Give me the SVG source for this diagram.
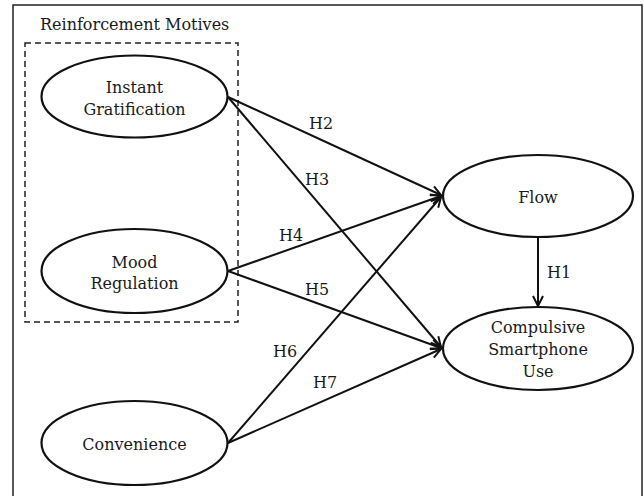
<svg xmlns="http://www.w3.org/2000/svg" width="644" height="496" viewBox="0 0 644 496">
<defs>
<style>
.t{font-family:"DejaVu Serif","Liberation Serif",serif;font-size:16px;fill:#1a1a1a}
.n{fill:#fff;stroke:#111;stroke-width:2.2}
.c{stroke:#111;stroke-width:2;fill:none;marker-end:url(#ah)}
</style>
<marker id="ah" viewBox="0 0 12 12" refX="11" refY="6" markerWidth="12" markerHeight="12" markerUnits="userSpaceOnUse" orient="auto">
<path d="M1,1 L11,6 L1,11" fill="none" stroke="#111" stroke-width="2"/>
</marker>
</defs>
<rect x="0" y="0" width="644" height="496" fill="#fff"/>
<rect x="13" y="5" width="629" height="500" fill="none" stroke="#222" stroke-width="1.5"/>
<g id="group-reinforcement">
<rect x="25" y="43" width="213" height="279" fill="none" stroke="#222" stroke-width="1.5" stroke-dasharray="6,4"/>
<text class="t" x="40" y="30">Reinforcement Motives</text>
</g>
<g id="connectors">
<line class="c" x1="228" y1="97" x2="441" y2="195"/>
<line class="c" x1="228" y1="97" x2="441" y2="347"/>
<line class="c" x1="228" y1="271" x2="441" y2="196"/>
<line class="c" x1="228" y1="271" x2="441" y2="348"/>
<line class="c" x1="228" y1="443" x2="441" y2="197"/>
<line class="c" x1="228" y1="443" x2="441" y2="349"/>
<line class="c" x1="538" y1="237" x2="538" y2="306"/>
<text class="t" x="309" y="129">H2</text>
<text class="t" x="305" y="185">H3</text>
<text class="t" x="279" y="241">H4</text>
<text class="t" x="305" y="295">H5</text>
<text class="t" x="273" y="357">H6</text>
<text class="t" x="313" y="388">H7</text>
<text class="t" x="547" y="278">H1</text>
</g>
<g id="instant">
<ellipse class="n" cx="134.5" cy="96.5" rx="93" ry="41"/>
<text class="t" x="134.5" y="93" text-anchor="middle">Instant</text>
<text class="t" x="134.5" y="115" text-anchor="middle">Gratification</text>
</g>
<g id="mood">
<ellipse class="n" cx="134.5" cy="271" rx="93" ry="42"/>
<text class="t" x="134.5" y="268" text-anchor="middle">Mood</text>
<text class="t" x="134.5" y="289" text-anchor="middle">Regulation</text>
</g>
<g id="convenience">
<ellipse class="n" cx="134.5" cy="443" rx="93" ry="42"/>
<text class="t" x="134.5" y="450" text-anchor="middle">Convenience</text>
</g>
<g id="flow">
<ellipse class="n" cx="538" cy="196" rx="95" ry="41"/>
<text class="t" x="538" y="203" text-anchor="middle">Flow</text>
</g>
<g id="csu">
<ellipse class="n" cx="538" cy="348.5" rx="95" ry="41.5"/>
<text class="t" x="538" y="333" text-anchor="middle">Compulsive</text>
<text class="t" x="538" y="355" text-anchor="middle">Smartphone</text>
<text class="t" x="538" y="377" text-anchor="middle">Use</text>
</g>
</svg>
